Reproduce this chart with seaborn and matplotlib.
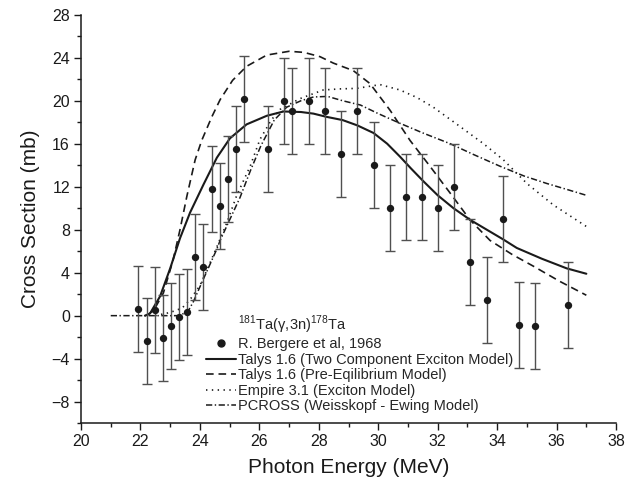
import numpy as np
import pandas as pd
import matplotlib
matplotlib.use("Agg")
import matplotlib.pyplot as plt
from matplotlib.lines import Line2D
from matplotlib.ticker import MultipleLocator
import seaborn as sns

# ---- experimental data (R. Bergere et al, 1968) ----
energy = [21.93, 22.21, 22.49, 22.75, 23.03, 23.30, 23.57, 23.84, 24.12, 24.40,
          24.67, 24.93, 25.20, 25.47, 26.29, 26.83, 27.11, 27.66, 28.20, 28.75,
          29.29, 29.84, 30.38, 30.92, 31.47, 32.01, 32.56, 33.10, 33.65, 34.20,
          34.74, 35.28, 36.37]
sigma = [0.6, -2.4, 0.5, -2.1, -1.0, -0.1, 0.3, 5.5, 4.5, 11.8,
         10.2, 12.7, 15.5, 20.2, 15.5, 20.0, 19.0, 20.0, 19.0, 15.0,
         19.0, 14.0, 10.0, 11.0, 11.0, 10.0, 12.0, 5.0, 1.5, 9.0,
         -0.9, -1.0, 1.0]
sigma_err = [4.0] * len(energy)

# ---- Talys 1.6 (Two Component Exciton Model) ----
talys2_x = [22.15, 22.32, 22.66, 23.0, 23.33, 23.67, 24.12, 24.57, 25.01, 25.57,
            26.25, 26.81, 27.4, 27.82, 28.26, 28.8, 29.3, 29.84, 30.3, 30.73,
            31.1, 31.52, 32.0, 32.53, 33.1, 33.65, 34.2, 34.66, 35.5, 36.34, 37.0]
talys2_y = [0.0, 0.2, 1.8, 4.4, 7.2, 9.6, 12.2, 14.7, 16.5, 17.8,
            18.6, 19.0, 18.95, 18.8, 18.5, 18.2, 17.7, 17.0, 16.0, 14.8,
            13.7, 12.5, 11.2, 10.0, 8.9, 8.0, 7.1, 6.3, 5.3, 4.4, 3.9]

# ---- Talys 1.6 (Pre-Eqilibrium Model) ----
talyspe_x = [22.2, 22.45, 22.77, 23.1, 23.33, 23.56, 23.84, 24.06, 24.4, 24.68,
             25.1, 25.57, 26.25, 27.0, 27.5, 28.04, 28.49, 29.16, 29.72, 30.4,
             31.07, 31.74, 32.42, 33.09, 33.76, 34.5, 35.22, 36.1, 37.0]
talyspe_y = [0.0, 0.5, 2.1, 5.2, 8.0, 11.1, 14.5, 16.3, 18.5, 20.1,
             21.9, 23.2, 24.25, 24.6, 24.5, 24.1, 23.5, 22.8, 21.6, 19.1,
             16.3, 13.9, 11.4, 8.9, 7.0, 5.7, 4.6, 3.2, 1.9]

# ---- Empire 3.1 (Exciton Model) ----
empire_x = [22.5, 23.0, 23.4, 23.67, 24.0, 24.23, 24.57, 24.9, 25.24, 25.69,
            26.02, 26.4, 26.7, 27.37, 28.15, 28.7, 29.28, 30.06, 30.73, 31.3,
            31.85, 32.75, 33.54, 34.21, 35.0, 35.89, 37.0]
empire_y = [0.0, 0.3, 0.7, 1.5, 2.8, 4.2, 6.4, 8.6, 11.2, 13.9,
            16.4, 18.2, 19.2, 20.2, 21.0, 21.1, 21.15, 21.5, 21.0, 20.3,
            19.4, 17.6, 16.0, 14.5, 12.3, 10.3, 8.3]

# ---- PCROSS (Weisskopf - Ewing Model) ----
pcross_x = [21.0, 23.3, 23.6, 23.78, 24.1, 24.57, 24.68, 25.35, 25.7, 26.05,
            26.5, 26.92, 27.4, 27.82, 28.3, 28.8, 29.4, 30.0, 30.73, 31.5,
            32.42, 33.2, 34.1, 34.9, 35.67, 36.4, 37.0]
pcross_y = [0.0, 0.0, 0.4, 1.3, 3.3, 6.2, 7.0, 11.0, 13.5, 15.8,
            18.2, 19.4, 20.0, 20.35, 20.4, 20.0, 19.6, 18.8, 17.9, 17.0,
            16.0, 15.0, 13.9, 13.0, 12.3, 11.7, 11.2]

x_ticks = [20, 22, 24, 26, 28, 30, 32, 34, 36, 38]
y_ticks = [-8, -4, 0, 4, 8, 12, 16, 20, 24, 28]

legend_title = "$^{181}$Ta(γ,3n)$^{178}$Ta"
labels = ["R. Bergere et al, 1968",
          "Talys 1.6 (Two Component Exciton Model)",
          "Talys 1.6 (Pre-Eqilibrium Model)",
          "Empire 3.1 (Exciton Model)",
          "PCROSS (Weisskopf - Ewing Model)"]

sns.set_theme(style="ticks")
plt.rcParams["font.family"] = ["Liberation Sans", "DejaVu Sans"]
plt.rcParams["mathtext.fontset"] = "custom"
plt.rcParams["mathtext.rm"] = "Liberation Sans"
plt.rcParams["lines.scale_dashes"] = False

fig = plt.figure(figsize=(6.28, 4.92), dpi=100)
ax = fig.add_axes([0.129, 0.140, 0.852, 0.830])

curves = [
    (talys2_x, talys2_y, "-", 1.5),
    (talyspe_x, talyspe_y, (0, (5.5, 3.5)), 1.2),
    (empire_x, empire_y, (0, (1.0, 3.2)), 1.2),
    (pcross_x, pcross_y, (0, (4.5, 1.8, 1.0, 1.8)), 1.1),
]
handles = [Line2D([], [], linestyle="none")]
handles.append(Line2D([], [], linestyle="none", marker="o", color="k", markersize=5))
for cx, cy, ls, lw in curves:
    df = pd.DataFrame({"x": cx, "y": cy})
    sns.lineplot(data=df, x="x", y="y", ax=ax, color="k", linestyle=ls,
                 linewidth=lw, estimator=None, legend=False)
    handles.append(Line2D([], [], color="k", linestyle=ls, linewidth=lw))

ax.errorbar(energy, sigma, yerr=sigma_err, fmt="none", ecolor="#505050",
            elinewidth=1.0, capsize=3.3, capthick=1.0, zorder=3)
dfe = pd.DataFrame({"E": energy, "s": sigma})
sns.scatterplot(data=dfe, x="E", y="s", ax=ax, color="k", s=28,
                edgecolor="k", linewidth=0, zorder=4, legend=False)

ax.set_xlim(20, 38)
ax.set_ylim(-10, 28)
ax.set_xticks(x_ticks)
ax.set_yticks(y_ticks)
ax.xaxis.set_minor_locator(MultipleLocator(1))
ax.yaxis.set_minor_locator(MultipleLocator(2))
ax.tick_params(which="major", direction="out", length=5, width=1.0,
               labelsize=11.5, color="k", labelcolor="k", pad=3)
ax.tick_params(which="minor", direction="out", length=3, width=1.0, color="k")
for side in ["top", "right"]:
    ax.spines[side].set_visible(False)
for side in ["left", "bottom"]:
    ax.spines[side].set_linewidth(1.1)
    ax.spines[side].set_color("k")

ax.set_xlabel("Photon Energy (MeV)", fontsize=15, labelpad=6, color="k")
ax.set_ylabel("Cross Section (mb)", fontsize=15, labelpad=8, color="k")

leg = ax.legend(handles, [legend_title] + labels, loc="lower left",
                bbox_to_anchor=(0.233, 0.024), frameon=False, fontsize=10.5,
                handlelength=2.05, handletextpad=0.15, labelspacing=0.1,
                borderpad=0, borderaxespad=0)

fig.savefig("out.png", dpi=100)
